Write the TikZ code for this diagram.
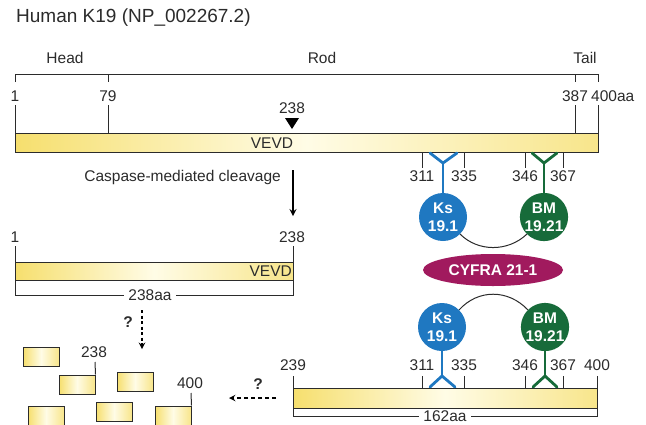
\documentclass[tikz,border=0pt]{standalone}
\usepackage{fontspec}
\setmainfont{Liberation Sans}
\usepackage{xcolor}
\usetikzlibrary{shapes.geometric}
\definecolor{BarYellow}{HTML}{F6DF6E}
\definecolor{BarPale}{HTML}{FFFCE6}
\definecolor{KsBlue}{HTML}{1F78C1}
\definecolor{BmGreen}{HTML}{176B3A}
\definecolor{CyfraPurple}{HTML}{A11A5E}
\definecolor{InkGrey}{HTML}{2B2B2B}

\begin{document}
\begin{tikzpicture}[x=1pt,y=-1pt,
	bar/.style={draw=InkGrey, line width=1pt, left color=BarYellow, right color=BarYellow!80!white, middle color=BarPale, inner sep=0pt, minimum height=19pt},
	lbl/.style={inner sep=1pt, text=InkGrey, font=\fontsize{15.5}{18}\selectfont},
	rule/.style={draw=InkGrey, line width=1pt},
	mab/.style={circle, minimum size=48pt, inner sep=0pt, align=center, text=white, font=\fontsize{15.5}{18}\selectfont\bfseries},
	ystem/.style={line width=2.8pt, line cap=round}]
	\useasboundingbox (0,0) rectangle (646,424);
	% Full length K19
	\node[lbl, anchor=west, font=\fontsize{19}{22}\selectfont] (title) at (15,18) {Human K19 (NP\_002267.2)};
	\node[lbl] (head) at (65,58) {Head};
	\node[lbl] (rod) at (322,58) {Rod};
	\node[lbl] (tail) at (585,58) {Tail};
	\draw[rule] (15,82) -- (15,74) -- (598,74) -- (598,82);
	\draw[rule] (108,74) -- (108,82);
	\draw[rule] (575,74) -- (575,82);
	\node[bar, minimum width=583pt] (full) at (306.5,142.5) {};
	\node[lbl] (a1) at (15,96) {1};
	\node[lbl] (a79) at (108,96) {79};
	\node[lbl] (a387) at (575,96) {387};
	\node[lbl, anchor=west] (a400) at (590,96) {400aa};
	\foreach \n/\x in {a1/15, a79/108, a387/575, a400/598}
		\draw[rule] (\x,105) -- (\x,0 |- full.north);
	\node[lbl] (a238) at (292,108) {238};
	\fill[black] (285,118) -- (299,118) -- (292,129) -- cycle;
	\node[lbl] (vevd) at (272,143) {VEVD};
	% epitopes on the full length protein
	\foreach \x/\t in {422/311, 464/335, 525/346, 563/367}{
		\draw[rule] (\x,0 |- full.south) -- (\x,168);
		\node[lbl] (u\t) at (\x,176) {\t};
	}
	\node[mab, fill=KsBlue] (ks1) at (443,217) {Ks\\19.1};
	\node[mab, fill=BmGreen] (bm1) at (544,217) {BM\\19.21};
	\coordinate (ksj1) at (443,163);
	\coordinate (bmj1) at (544,163);
	\draw[ystem, draw=KsBlue] (ks1) -- (ksj1);
	\draw[ystem, draw=KsBlue] (430,153) -- (ksj1) -- (457,153);
	\draw[ystem, draw=BmGreen] (bm1) -- (bmj1);
	\draw[ystem, draw=BmGreen] (532,153) -- (bmj1) -- (557,153);
	\draw[rule] (ks1.-45) .. controls (478,252) and (508,252) .. (bm1.-135);
	\node[ellipse, fill=CyfraPurple, minimum width=140pt, minimum height=32pt, inner sep=0pt, text=white, font=\fontsize{15.5}{18}\selectfont\bfseries] (cyfra) at (493,270) {CYFRA 21-1};
	% Caspase cleavage
	\coordinate (cutA) at (293,170);
	\coordinate (cutB) at (293,216);
	\draw[->, >=stealth, line width=2pt] (cutA) -- (cutB);
	\node[lbl, anchor=east] (casp) at (282,177) {Caspase-mediated cleavage};
	% N-terminal fragment
	\node[bar, minimum width=278pt, minimum height=18pt] (nfrag) at (154,271) {};
	\node[lbl] (b1) at (15,237) {1};
	\node[lbl] (b238) at (292,237) {238};
	\draw[rule] (15,246) -- (15,0 |- nfrag.north);
	\draw[rule] (293,246) -- (293,0 |- nfrag.north);
	\node[lbl, anchor=east] (vevd2) at (293,271) {VEVD};
	\draw[rule] (15,0 |- nfrag.south) -- (15,295) -- (293,295) -- (293,0 |- nfrag.south);
	\node[lbl, fill=white, inner xsep=4pt] (len238) at (150,295) {238aa};
	% C-terminal fragment
	\node[mab, fill=KsBlue] (ks2) at (442,327) {Ks\\19.1};
	\node[mab, fill=BmGreen] (bm2) at (545,327) {BM\\19.21};
	\draw[rule] (ks2.45) .. controls (478,289) and (508,289) .. (bm2.135);
	\node[bar, minimum width=304pt, minimum height=20pt] (cfrag) at (445,398) {};
	\foreach \x/\t in {293/239, 422/311, 464/335, 525/346, 563/367, 597/400}{
		\draw[rule] (\x,376) -- (\x,0 |- cfrag.north);
		\node[lbl] (c\t) at (\x,365) {\t};
	}
	\coordinate (ksj2) at (442,376);
	\coordinate (bmj2) at (545,376);
	\draw[ystem, draw=KsBlue] (ks2) -- (ksj2);
	\draw[ystem, draw=KsBlue] (430,387) -- (ksj2) -- (455,387);
	\draw[ystem, draw=BmGreen] (bm2) -- (bmj2);
	\draw[ystem, draw=BmGreen] (533,387) -- (bmj2) -- (557,387);
	\draw[rule] (293,0 |- cfrag.south) -- (293,416) -- (597,416) -- (597,0 |- cfrag.south);
	\node[lbl, fill=white, inner xsep=4pt, inner ysep=0pt] (len162) at (445,416) {162aa};
	% further degradation
	\coordinate (degA) at (142,310);
	\coordinate (degB) at (142,349);
	\draw[->, >=stealth, line width=1.8pt, dash pattern=on 3pt off 2.5pt] (degA) -- (degB);
	\node[lbl, font=\fontsize{15.5}{18}\selectfont\bfseries] (q1) at (128,322) {?};
	\coordinate (degC) at (276,398);
	\coordinate (degD) at (229,398);
	\draw[->, >=stealth, line width=1.8pt, dash pattern=on 4pt off 3pt] (degC) -- (degD);
	\node[lbl, font=\fontsize{15.5}{18}\selectfont\bfseries] (q2) at (258,384) {?};
	\node[bar, minimum width=36pt] (p1) at (41,356.5) {};
	\node[bar, minimum width=36pt] (p2) at (77,384.5) {};
	\node[bar, minimum width=36pt] (p3) at (135,381.5) {};
	\node[bar, minimum width=36pt] (p4) at (46,415.5) {};
	\node[bar, minimum width=36pt] (p5) at (114,412) {};
	\node[bar, minimum width=36pt] (p6) at (173,415.5) {};
	\node[lbl] (d238) at (94,352) {238};
	\draw[rule] (95,362) -- (p2.north east);
	\node[lbl] (d400) at (190,383) {400};
	\draw[rule] (191,393) -- (p6.north east);
\end{tikzpicture}
\end{document}
